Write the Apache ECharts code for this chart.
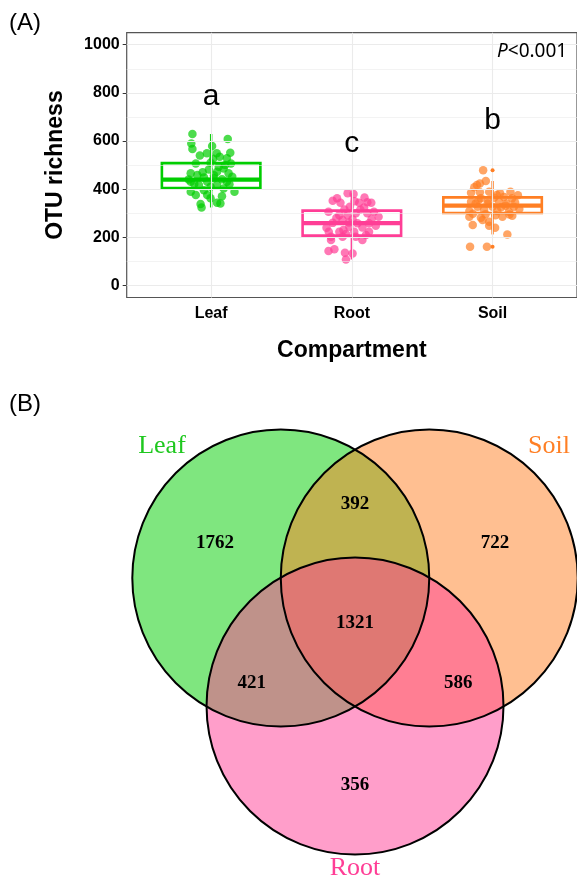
<!DOCTYPE html>
<html>
<head>
<meta charset="utf-8">
<script src="https://cdn.jsdelivr.net/npm/echarts@6/dist/echarts.min.js"></script>
<style>
html,body{margin:0;padding:0;background:#fff;}
#chart{width:577px;height:881px;}
</style>
</head>
<body>
<div id="chart"></div>
<script>
// ---------- Panel A data ----------
const categories = ['Leaf', 'Root', 'Soil'];
const yTickValues = [0, 200, 400, 600, 800, 1000];
const yMinorValues = [100, 300, 500, 700, 900];

// boxplot statistics per compartment
const boxLow  = [324, 108, 212];
const boxQ1   = [405, 207, 301];
const boxMed  = [440, 259, 332];
const boxQ3   = [508, 311, 366];
const boxHigh = [629, 383, 434];
const soilOutliers = [479, 161];

// jittered samples (horizontal jitter offset, OTU richness)
const leafJitter = [-0.133,0.118,-0.141,-0.133,0.007,-0.03,0.04,0.061,0.136,0.014,0.112,-0.004,-0.109,0.141,0.054,-0.016,0.089,0.042,-0.145,-0.098,0.124,-0.051,0.019,0.077,-0.145,-0.028,0.112,-0.087,0.042,-0.004,-0.145,-0.051,0.089,0.166,-0.109,-0.028,0.077,-0.004,-0.075,-0.068,0.066,0.042,-0.12,0.15,-0.06,0.02,0.10,-0.08,-0.16,0.13];
const leafValues = [629,608,590,567,579,549,549,535,551,526,528,510,507,507,493,482,486,472,466,459,466,449,445,441,431,431,431,417,417,410,389,396,403,389,376,376,371,362,338,324,341,344,422,452,470,458,500,540,440,420];

const rootJitter = [-0.03,0.012,-0.105,-0.081,-0.136,0.052,0.11,0.138,-0.014,-0.053,-0.166,0.087,0.028,-0.089,-0.03,0.11,0.157,0.005,-0.066,-0.136,0.04,0.122,-0.018,0.075,-0.164,-0.089,0.017,-0.042,0.122,-0.148,-0.066,0.028,0.075,-0.148,-0.124,-0.166,-0.049,0.005,-0.042,0.19,0.17,-0.11,0.06,-0.02,0.1,-0.18,0.14,0.02,-0.06,0.09];
const rootValues = [383,380,362,344,352,344,346,344,327,316,306,324,300,292,292,300,306,275,272,260,258,258,244,241,223,223,223,214,223,202,202,202,189,189,150,143,136,133,108,285,248,280,315,262,210,240,275,350,230,365];

const soilJitter = [-0.067,-0.048,-0.09,-0.13,-0.111,-0.09,-0.153,-0.024,0.053,0.127,-0.083,0.011,0.081,0.139,-0.153,-0.035,0.046,-0.106,0,0.093,0.151,-0.165,-0.06,0.034,0.116,-0.165,-0.083,0.07,-0.141,-0.071,-0.024,0.018,-0.024,0.105,-0.16,-0.04,0.16,0.18,-0.12,0.06,-0.03,0.12,0.19,-0.14,0.03,0.1,-0.05,0.14,-0.1,0.02];
const soilValues = [479,434,424,408,417,387,385,389,383,389,362,364,368,362,348,341,348,327,327,331,327,309,313,309,306,285,281,285,251,272,265,240,248,212,161,161,345,375,340,325,352,295,318,298,376,340,296,290,355,292];

const sigLetters = ['a', 'c', 'b'];
const sigY = [783, 589, 685];
const pValueText = 'P<0.001';

// ---------- Panel B data (Venn) ----------
const vennSets = ['Leaf', 'Soil', 'Root'];
const vennCenterX = [-0.5, 0.5, 0];
const vennCenterY = [0.862, 0.862, 0];
const vennRadius = [1, 1, 1];
const vennSetLabelX = [-1.30, 1.306, 0];
const vennSetLabelY = [1.751, 1.751, -1.091];
const vennRegionCounts = [1762, 392, 722, 1321, 421, 586, 356];
const vennRegionX = [-0.943, 0, 0.943, 0, -0.696, 0.696, 0];
const vennRegionY = [1.100, 1.358, 1.100, 0.561, 0.157, 0.157, -0.532];

// ---------- styles ----------
const groupColors = ['#00CD00', '#FF3E96', '#FF7F24'];
const vennColors = ['#00CD00', '#FF7F24', '#FF3E96'];
const vennLabelColors = ['#1FC81F', '#FF7F24', '#FF3E96'];
const sans = 'Liberation Sans';
const serif = 'Liberation Serif';

const chart = echarts.init(document.getElementById('chart'), null, {renderer: 'canvas'});

function jitterData(offsets, values, xBase) {
  return values.map((v, i) => [xBase + offsets[i], v]);
}

const boxData = categories.map((c, i) => [i + 1, boxLow[i], boxQ1[i], boxMed[i], boxQ3[i], boxHigh[i]]);

const gridLineData = []
  .concat(yMinorValues.map(v => ({yAxis: v, lineStyle: {width: 0.6}})))
  .concat(yTickValues.map(v => ({yAxis: v, lineStyle: {width: 1.1}})))
  .concat(categories.map((c, i) => ({xAxis: i + 1, lineStyle: {width: 1.1}})));

const option = {
  animation: false,
  backgroundColor: '#ffffff',
  title: [
    {text: '(A)', left: 9, top: 11, padding: 0,
     textStyle: {fontFamily: sans, fontSize: 24, fontWeight: 'normal', color: '#000'}},
    {text: '(B)', left: 9, top: 392, padding: 0,
     textStyle: {fontFamily: sans, fontSize: 24, fontWeight: 'normal', color: '#000'}},
    {text: '{i|P}<0.001', left: 497, top: 42, padding: 0,
     textStyle: {fontFamily: 'Noto Sans', fontSize: 19, fontWeight: 'normal', color: '#000'},
     textStyle2: null}
  ],
  grid: [
    {left: 126.7, top: 32.7, width: 455.4, height: 264.8, show: true,
     backgroundColor: '#fff', borderColor: '#555', borderWidth: 1.2, containLabel: false},
    {left: 0, top: 400, width: 577, height: 481, show: false}
  ],
  xAxis: [
    {gridIndex: 0, type: 'value', min: 0.4, max: 3.6,
     name: 'Compartment', nameLocation: 'middle', nameGap: 42,
     nameTextStyle: {fontFamily: sans, fontSize: 23, fontWeight: 'bold', color: '#000'},
     axisLine: {show: false},
     axisTick: {show: true, length: 4, customValues: [1, 2, 3], lineStyle: {color: '#333', width: 1}},
     axisLabel: {show: true, customValues: [1, 2, 3], margin: 8,
       formatter: v => categories[Math.round(v) - 1] || '',
       fontFamily: sans, fontSize: 16, fontWeight: 'bold', color: '#000'},
     splitLine: {show: false}},
    {gridIndex: 1, type: 'value', min: -2.391, max: 1.495, show: false}
  ],
  yAxis: [
    {gridIndex: 0, type: 'value', min: -50, max: 1050,
     name: 'OTU richness', nameLocation: 'middle', nameGap: 60, nameRotate: 90,
     nameTextStyle: {fontFamily: sans, fontSize: 23, fontWeight: 'bold', color: '#000'},
     axisLine: {show: false},
     axisTick: {show: true, length: 4, customValues: yTickValues, lineStyle: {color: '#333', width: 1}},
     axisLabel: {show: true, customValues: yTickValues, margin: 7,
       formatter: v => String(v),
       fontFamily: sans, fontSize: 16, fontWeight: 'bold', color: '#000'},
     splitLine: {show: false}},
    {gridIndex: 1, type: 'value', min: -1.178, max: 2.061, show: false}
  ],
  series: [
    // gridlines
    {type: 'line', xAxisIndex: 0, yAxisIndex: 0, data: [], z: 1, silent: true,
     markLine: {silent: true, symbol: 'none', label: {show: false},
       lineStyle: {color: '#EBEBEB', type: 'solid'}, data: gridLineData}},
    // jittered points
    {type: 'scatter', xAxisIndex: 0, yAxisIndex: 0, z: 3, symbolSize: 8.5, silent: true,
     itemStyle: {color: groupColors[0], opacity: 0.7}, data: jitterData(leafJitter, leafValues, 1)},
    {type: 'scatter', xAxisIndex: 0, yAxisIndex: 0, z: 3, symbolSize: 8.5, silent: true,
     itemStyle: {color: groupColors[1], opacity: 0.7}, data: jitterData(rootJitter, rootValues, 2)},
    {type: 'scatter', xAxisIndex: 0, yAxisIndex: 0, z: 3, symbolSize: 8.5, silent: true,
     itemStyle: {color: groupColors[2], opacity: 0.7}, data: jitterData(soilJitter, soilValues, 3)},
    // boxes
    {type: 'custom', xAxisIndex: 0, yAxisIndex: 0, z: 4, silent: true,
     data: boxData,
     renderItem: function (params, api) {
       const x = api.value(0), lo = api.value(1), q1 = api.value(2), md = api.value(3), q3 = api.value(4), hi = api.value(5);
       const hw = 0.35;
       const color = groupColors[params.dataIndex];
       const tl = api.coord([x - hw, q3]), br = api.coord([x + hw, q1]);
       const ml = api.coord([x - hw, md]), mr = api.coord([x + hw, md]);
       const pHi = api.coord([x, hi]), pQ3 = api.coord([x, q3]), pQ1 = api.coord([x, q1]), pLo = api.coord([x, lo]);
       return {type: 'group', children: [
         {type: 'line', shape: {x1: pHi[0], y1: pHi[1], x2: pQ3[0], y2: pQ3[1]}, style: {stroke: color, lineWidth: 2.4}},
         {type: 'line', shape: {x1: pQ1[0], y1: pQ1[1], x2: pLo[0], y2: pLo[1]}, style: {stroke: color, lineWidth: 2.4}},
         {type: 'rect', shape: {x: tl[0], y: tl[1], width: br[0] - tl[0], height: br[1] - tl[1]}, style: {fill: 'none', stroke: color, lineWidth: 2.6}},
         {type: 'line', shape: {x1: ml[0], y1: ml[1], x2: mr[0], y2: mr[1]}, style: {stroke: color, lineWidth: 4.2}}
       ]};
     }},
    // outliers
    {type: 'scatter', xAxisIndex: 0, yAxisIndex: 0, z: 5, symbolSize: 4, silent: true,
     itemStyle: {color: groupColors[2], opacity: 1}, data: soilOutliers.map(v => [3, v])},
    // significance letters
    {type: 'scatter', xAxisIndex: 0, yAxisIndex: 0, z: 6, symbolSize: 0, silent: true,
     itemStyle: {opacity: 1},
     data: sigLetters.map((l, i) => [i + 1, sigY[i], l]),
     label: {show: true, position: 'inside', formatter: p => p.value[2],
       fontFamily: sans, fontSize: 30, color: '#000'}},
    // Venn fills
    {type: 'custom', xAxisIndex: 1, yAxisIndex: 1, z: 2, silent: true,
     data: vennSets.map((s, i) => [vennCenterX[i], vennCenterY[i], vennRadius[i]]),
     renderItem: function (params, api) {
       const c = api.coord([api.value(0), api.value(1)]);
       const r = api.size([api.value(2), 0])[0];
       return {type: 'circle', shape: {cx: c[0], cy: c[1], r: r},
         style: {fill: vennColors[params.dataIndex], opacity: 0.5, stroke: 'none'}};
     }},
    // Venn outlines
    {type: 'custom', xAxisIndex: 1, yAxisIndex: 1, z: 3, silent: true,
     data: vennSets.map((s, i) => [vennCenterX[i], vennCenterY[i], vennRadius[i]]),
     renderItem: function (params, api) {
       const c = api.coord([api.value(0), api.value(1)]);
       const r = api.size([api.value(2), 0])[0];
       return {type: 'circle', shape: {cx: c[0], cy: c[1], r: r},
         style: {fill: 'none', stroke: '#000', lineWidth: 2}};
     }},
    // Venn region counts
    {type: 'scatter', xAxisIndex: 1, yAxisIndex: 1, z: 4, symbolSize: 0, silent: true,
     itemStyle: {opacity: 1},
     data: vennRegionCounts.map((n, i) => [vennRegionX[i], vennRegionY[i], n]),
     label: {show: true, position: 'inside', formatter: p => String(p.value[2]),
       fontFamily: serif, fontSize: 19, fontWeight: 'bold', color: '#000'}},
    // Venn set names
    {type: 'scatter', xAxisIndex: 1, yAxisIndex: 1, z: 4, symbolSize: 0, silent: true,
     itemStyle: {opacity: 1},
     data: vennSets.map((s, i) => ({value: [vennSetLabelX[i], vennSetLabelY[i], s],
       label: {color: vennLabelColors[i]}})),
     label: {show: true, position: 'inside', formatter: p => p.value[2],
       fontFamily: serif, fontSize: 26, fontWeight: 'normal'}}
  ]
};
option.title[2].textStyle.rich = {i: {fontFamily: 'Noto Sans', fontSize: 19, fontStyle: 'italic', color: '#000'}};
delete option.title[2].textStyle2;
chart.setOption(option);
</script>
</body>
</html>
